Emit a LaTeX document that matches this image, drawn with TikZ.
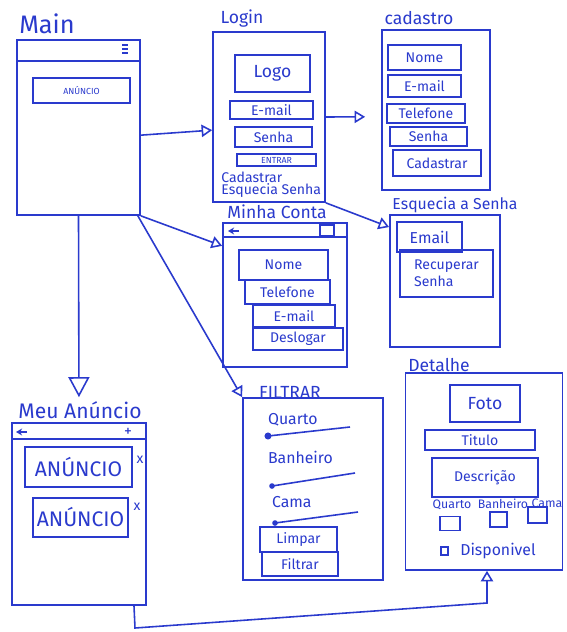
\documentclass[tikz,border=0pt]{standalone}
\usepackage{fontspec}
\setmainfont{Fira Sans}
\usetikzlibrary{arrows.meta}
\definecolor{ink}{RGB}{42,58,205}
\tikzset{
  screen/.style={draw=ink, line width=1pt, inner sep=0pt},
  field/.style={draw=ink, line width=0.9pt, text=ink, inner sep=1pt, font=\footnotesize},
  title/.style={text=ink, font=\normalsize, inner sep=1pt},
  label/.style={text=ink, font=\footnotesize, inner sep=1pt},
  stroke/.style={draw=ink, line width=0.9pt},
  link/.style={draw=ink, line width=0.9pt, -{Triangle[open, length=6pt, width=7pt]}},
}
\begin{document}
\begin{tikzpicture}[x=0.02cm, y=-0.02cm]
\useasboundingbox[fill=white] (0,0) rectangle (566,632);

% Main
\node[screen, minimum width=2.46cm, minimum height=3.5cm] (main) at (78.5,127.5) {};
\node[title, font=\Large] (maintitle) at (47,24) {Main};
\draw[stroke] ([yshift=-0.44cm]main.north west) -- ([yshift=-0.44cm]main.north east);
\foreach \y in {45,49,53}
  \draw[stroke, line width=0.7pt] (122,\y) -- (128,\y);
\node[field, font=\tiny, minimum width=1.94cm, minimum height=0.5cm] (mainad) at (81.5,90.5) {ANÚNCIO};

% Login
\node[screen, minimum width=2.24cm, minimum height=3.4cm] (login) at (269,117) {};
\node[title] (logintitle) at (242,19) {Login};
\node[field, font=\normalsize, minimum width=1.5cm, minimum height=0.74cm] (logo) at (272.5,73.5) {Logo};
\node[field, minimum width=1.66cm, minimum height=0.36cm] (loginmail) at (271.5,110) {E-mail};
\node[field, minimum width=1.54cm, minimum height=0.4cm] (loginpass) at (273.5,137) {Senha};
\node[field, font=\tiny, minimum width=1.58cm, minimum height=0.24cm] (enter) at (276.5,160) {ENTRAR};
\node[label, inner sep=0pt, anchor=west] (signup) at (221,177) {Cadastrar};
\node[label, inner sep=0pt, anchor=west] (forgot) at (221,191) {Esquecia Senha};

% Cadastro
\node[screen, minimum width=2.16cm, minimum height=3.2cm] (cadastro) at (436,110) {};
\node[title] (cadtitle) at (419,18) {cadastro};
\node[field, minimum width=1.46cm, minimum height=0.5cm] (cadname) at (424.5,57.5) {Nome};
\node[field, minimum width=1.46cm, minimum height=0.44cm] (cadmail) at (424.5,86) {E-mail};
\node[field, minimum width=1.56cm, minimum height=0.38cm] (cadphone) at (426,113.5) {Telefone};
\node[field, minimum width=1.54cm, minimum height=0.38cm] (cadpass) at (428.5,136.5) {Senha};
\node[field, minimum width=1.76cm, minimum height=0.52cm] (cadbtn) at (437,163) {Cadastrar};

% Minha Conta
\node[screen, minimum width=2.48cm, minimum height=2.88cm] (conta) at (285,295) {};
\node[title] (contatitle) at (277,212) {Minha Conta};
\draw[stroke] ([yshift=-0.3cm]conta.north west) -- ([yshift=-0.3cm]conta.north east);
\draw[stroke, line width=0.6pt, -{Stealth[length=3.5pt, width=4pt]}] (239,231) -- (228,231);
\draw[stroke] (320,225) rectangle (334,236);
\node[field, minimum width=1.78cm, minimum height=0.6cm] (contaname) at (283.5,265) {Nome};
\node[field, minimum width=1.7cm, minimum height=0.48cm] (contaphone) at (287.5,292) {Telefone};
\node[field, minimum width=1.64cm, minimum height=0.44cm] (contamail) at (294,316) {E-mail};
\node[field, minimum width=1.8cm, minimum height=0.44cm] (logout) at (298,339) {Deslogar};

% Esquecia a Senha
\node[screen, minimum width=2.2cm, minimum height=2.64cm] (esq) at (445,281) {};
\node[title, font=\small] (esqtitle) at (455,205) {Esquecia a Senha};
\node[field, font=\small, minimum width=1.3cm, minimum height=0.6cm] (esqmail) at (429.5,237) {Email};
\node[field, align=left, minimum width=1.86cm, minimum height=0.94cm] (recover) at (446.5,273.5) {Recuperar\\Senha};

% Filtrar
\node[screen, minimum width=2.8cm, minimum height=3.64cm] (filtrar) at (313,489) {};
\node[title] (filtitle) at (290,392) {FILTRAR};
\node[label, font=\small, anchor=west] (quarto) at (266,420) {Quarto};
\draw[stroke] (268,436) -- (350,427);
\fill[ink] (268,436) circle (2pt);
\node[label, font=\small, anchor=west] (banheiro) at (266,457) {Banheiro};
\draw[stroke] (272,486) -- (355,473);
\fill[ink] (272,486) circle (1.6pt);
\node[label, font=\small, anchor=west] (cama) at (270,502) {Cama};
\draw[stroke] (275,523) -- (358,512);
\fill[ink] (275,523) circle (1.6pt);
\node[field, minimum width=1.54cm, minimum height=0.5cm] (clear) at (298.5,539.5) {Limpar};
\node[field, minimum width=1.52cm, minimum height=0.48cm] (apply) at (300,564) {Filtrar};

% Detalhe
\node[screen, minimum width=3.14cm, minimum height=3.94cm] (detalhe) at (484,471.5) {};
\node[title] (dettitle) at (439,365) {Detalhe};
\node[field, font=\normalsize, minimum width=1.4cm, minimum height=0.74cm] (photo) at (485,403.5) {Foto};
\node[field, minimum width=2.2cm, minimum height=0.4cm] (dettitlebox) at (480,440) {Titulo};
\node[field, minimum width=2.12cm, minimum height=0.78cm] (descr) at (485,477.5) {Descrição};
\node[label, font=\scriptsize] (detroom) at (452,505) {Quarto};
\node[label, font=\scriptsize] (detbath) at (503,504) {Banheiro};
\node[label, font=\scriptsize] (detbed) at (547,503) {Cama};
\node[field, minimum width=0.4cm, minimum height=0.28cm] (boxroom) at (450,523.5) {};
\node[field, minimum width=0.34cm, minimum height=0.3cm] (boxbath) at (498.5,519.5) {};
\node[field, minimum width=0.38cm, minimum height=0.32cm] (boxbed) at (537.5,515) {};
\draw[stroke, line width=0.7pt] (441,547) rectangle (448,555);
\node[label, font=\small] (available) at (498,551) {Disponivel};

% Meu Anuncio
\node[screen, minimum width=2.68cm, minimum height=3.64cm] (meu) at (79,514) {};
\node[title, font=\large] (meutitle) at (80,410) {Meu Anúncio};
\draw[stroke] ([yshift=-0.34cm]meu.north west) -- ([yshift=-0.34cm]meu.north east);
\draw[stroke, line width=0.6pt, -{Stealth[length=3.5pt, width=4pt]}] (27,432) -- (16,432);
\node[label, font=\small, inner sep=0pt] (plus) at (128,432) {+};
\node[field, font=\large, minimum width=2.14cm, minimum height=0.8cm] (ad1) at (78.5,467) {ANÚNCIO};
\node[label] (del1) at (140,460) {x};
\node[field, font=\large, minimum width=1.9cm, minimum height=0.78cm] (ad2) at (80.5,517.5) {ANÚNCIO};
\node[label] (del2) at (137,507) {x};

% ligacoes
\coordinate (k1) at (135,628);
\coordinate (k2) at (487,603);
\draw[link] (main.-7) -- (login.193);
\draw[link, shorten >=0.32cm] (login.east) -- (cadastro.187);
\draw[link] (main.south east) -- (conta.142);
\draw[link] (login.south east) -- (esq.136);
\draw[link] ([xshift=-0.06cm]main.south east) -- (filtrar.north west);
\draw[draw=ink, line width=0.9pt, shorten >=0.5cm, -{Triangle[open, length=0.4cm, width=0.42cm]}] (main.south) -- (meu.north);
\draw[link] ([xshift=1.1cm]meu.south) -- (k1) -- (k2) -- (k2 |- detalhe.south);
\end{tikzpicture}
\end{document}
